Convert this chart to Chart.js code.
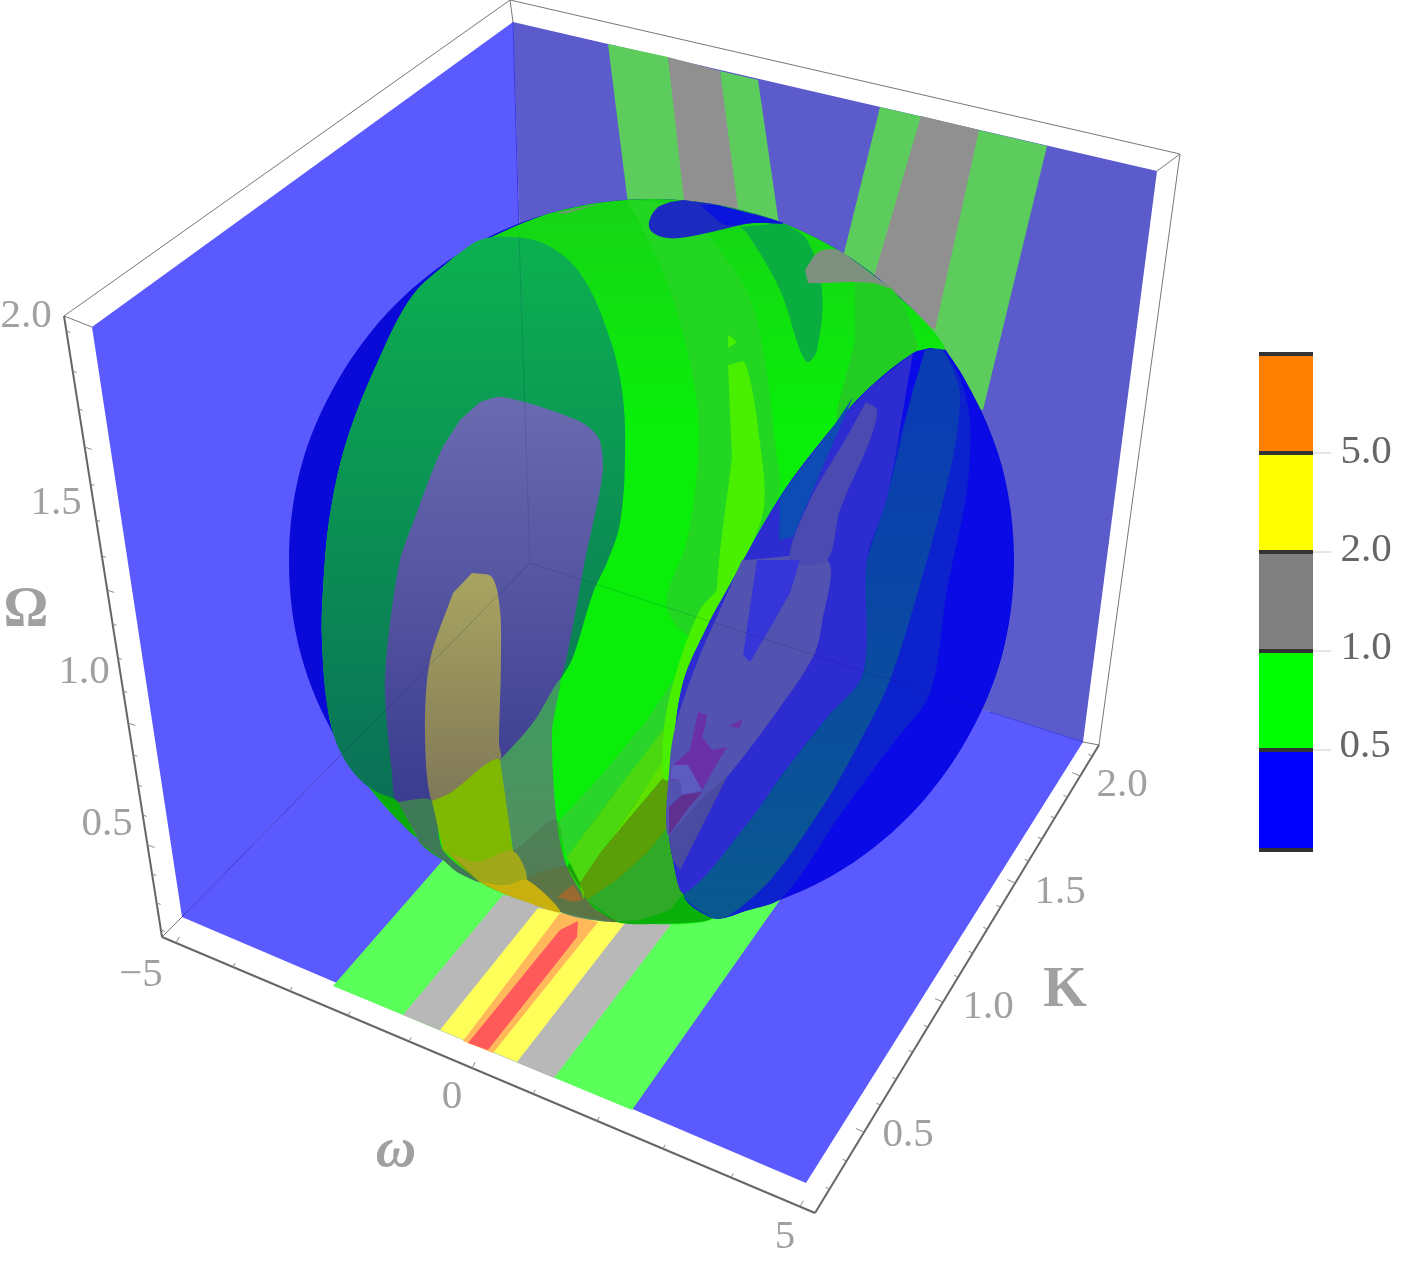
<!DOCTYPE html>
<html>
<head>
<meta charset="utf-8">
<title>Contour sphere</title>
<script src="https://cdn.jsdelivr.net/npm/chart.js@4/dist/chart.umd.js"></script>
<style>
  html, body { margin: 0; padding: 0; background: #fff; }
  canvas { display: block; }
</style>
</head>
<body>
<canvas id="plot" width="1416" height="1264"></canvas>
<script>

// box walls
const leftWall = [[92,327],[513,22],[530,563],[182,917]];
const backWall = [[513,22],[1157,171],[1083,742],[530,563]];
const floorWall = [[182,917],[530,563],[1083,742],[806,1183]];

// contour bands on the back wall
const backGreenA = [[608,44],[668,57],[700,300],[640,300]];
const backGreyA = [[668,57],[720,71],[755,300],[695,300]];
const backGreenB = [[720,71],[758,80],[790,300],[750,300]];
const backGreenC = [[880,107],[1047,146],[983,410],[820,350]];
const backGreyC = [[921,116],[979,130],[935,330],[870,290]];

// contour bands on the floor
const floorGreen = [[333,986],[443,860],[560,760],[830,830],[780,900],[632,1110]];
const floorGrey = [[403,1015],[503,895],[672,923],[554,1078]];
const floorYellow = [[440,1030],[538,908],[625,923],[517,1062]];
const floorOrange = [[463,1041],[560,913],[598,922],[493,1053]];
const floorRed = [[468,1043],[560,930],[578,921],[577,937],[488,1050]];

// sphere
const sphereRim = [[1014,561],[1002,467],[965,380],[908,305],[833,247],[745,211],[652,199],[558,211],[470,247],[395,305],[338,380],[301,467],[289,561],[301,655],[338,742],[395,817],[470,875],[558,911],[652,924],[745,911],[833,875],[908,817],[965,742],[1002,655],[1014,561]];
const greenBody = [[453,258],[470,247],[558,211],[652,199],[745,211],[833,247],[908,305],[945,350],[913,353],[870,387],[833,427],[780,497],[727,590],[707,627],[683,683],[672,760],[668,820],[673,860],[683,893],[713,918],[652,924],[558,911],[470,875],[395,817],[338,742],[328,710],[322,640],[323,590],[330,515],[347,440],[380,357],[413,295],[453,258]];
const tealDome = [[453,258],[480,240],[513,237],[547,245],[580,273],[607,330],[622,390],[625,457],[620,523],[608,560],[593,593],[573,657],[560,680],[533,723],[500,760],[450,793],[413,802],[373,790],[343,757],[328,710],[322,640],[323,590],[330,515],[347,440],[380,357],[413,295],[453,258]];
const purpleCap = [[480,402],[503,397],[577,420],[598,437],[603,463],[600,490],[585,560],[573,625],[560,680],[533,723],[500,760],[450,793],[398,802],[392,773],[385,693],[388,640],[400,560],[413,523],[440,453],[460,420]];
const oliveFinger = [[472,573],[492,577],[500,610],[501,660],[499,743],[500,760],[450,793],[432,801],[425,733],[430,660],[453,593]];

// strips under the dark arc
const lowSliver = [[343,757],[373,790],[398,802],[420,843],[443,860],[413,835],[395,817]];
const lowGreyGreen = [[398,802],[432,801],[443,850],[480,882],[457,872],[443,860],[420,843]];
const lowLime = [[432,801],[450,793],[500,760],[513,850],[527,880],[560,912],[547,908],[507,895],[480,882],[443,850]];
const lowMustard = [[450,853],[477,862],[513,851],[527,880],[507,885],[480,882]];
const lowYellow = [[480,882],[507,885],[527,880],[560,912],[507,895]];
const midStrip = [[500,760],[533,723],[560,680],[552,733],[557,823],[567,867],[593,907],[617,922],[560,912],[527,880],[513,850]];
const lowGreenBase = [[567,867],[617,790],[668,827],[673,860],[683,893],[713,918],[652,924],[617,922],[593,907]];
const diagA = [[557,823],[600,777],[647,720],[700,640],[700,673],[673,717],[617,790],[567,857]];
const diagB = [[567,857],[617,790],[673,717],[700,673],[677,720],[672,747],[633,807],[580,883]];
const diagC = [[580,883],[633,807],[672,747],[669,780],[663,778],[600,853],[583,900]];
const diagOlive = [[663,778],[669,780],[668,827],[647,853],[617,880],[587,900],[580,883],[600,853]];
const diagLow = [[587,900],[617,880],[647,853],[668,827],[673,860],[683,893],[670,910],[640,920],[617,922]];
const brownPatch = [[557,897],[573,885],[583,900],[573,902]];
const limeRim = [[727,590],[707,627],[683,683],[672,747],[669,780],[663,778],[665,720],[680,660],[700,610],[717,590]];

// second and third arcs of the shell, they darken what lies under them
const arcTwo = [[450,853],[477,862],[513,851],[556,820],[567,867],[593,907],[617,922],[558,911],[470,875]];
const arcThree = [[487,883],[507,885],[567,867],[593,907],[617,922],[558,911]];

// strips on the upper green
const upperStrip = [[627,200],[640,223],[670,290],[695,390],[698,457],[687,540],[667,607],[700,640],[727,590],[778,497],[777,457],[753,307],[710,237],[680,203]];
const rightStrip = [[855,270],[893,290],[913,330],[915,355],[870,387],[837,423],[855,340]];
const limeSpike = [[728,365],[745,363],[760,443],[763,513],[727,590],[717,590],[732,457]];
const limeTip = [[728,335],[735,340],[736,343],[728,348]];
const tealTongue = [[783,223],[807,240],[822,290],[817,350],[808,362],[800,350],[780,290],[747,233],[740,227]];
const topBlob = [[683,200],[717,205],[783,223],[753,223],[720,230],[687,237],[667,238],[652,232],[649,222],[657,208],[670,202]];
const topBlobBright = [[717,205],[783,223],[753,223],[725,225],[700,205]];
const greyBlob = [[805,270],[817,253],[830,249],[840,251],[870,273],[890,288],[873,283],[847,282],[823,283],[808,283]];
const greySliver = [[555,213],[603,203],[565,214]];

// blue side
const blueBody = [[945,350],[965,380],[1002,467],[1014,561],[1002,655],[965,742],[908,817],[833,875],[745,911],[713,918],[683,893],[673,860],[668,820],[672,760],[683,683],[707,627],[727,590],[780,497],[833,427],[870,387],[913,353],[930,348]];
const blueStripOuter = [[945,352],[960,378],[970,420],[967,490],[947,590],[930,693],[890,747],[840,815],[783,897],[745,911],[713,918],[685,893],[863,673],[867,560],[913,390]];
const blueStripInner = [[925,350],[942,350],[953,370],[960,395],[953,457],[927,560],[890,680],[857,747],[827,800],[773,877],[730,915],[713,918],[685,893],[750,820],[783,773],[827,717],[863,673],[862,593],[867,560],[887,497],[913,390]];
const blueBase = [[913,353],[887,497],[867,560],[863,673],[827,717],[783,773],[750,820],[685,893],[673,860],[668,820],[672,760],[683,683],[707,627],[727,590],[780,497],[833,427],[870,387]];
const lavenderLow = [[742,560],[827,560],[822,623],[813,657],[773,717],[727,777],[670,837],[670,760],[677,720],[698,660],[723,603]];
const lavenderHigh = [[866,402],[877,410],[870,440],[840,510],[827,560],[790,560],[810,500],[845,440]];
const blueSpike = [[757,560],[800,560],[790,593],[773,623],[750,662],[743,655]];
const tealSpike = [[779,540],[793,537],[827,457],[853,397],[833,427],[780,497]];
const purpleMain = [[698,712],[707,715],[705,727],[702,737],[712,750],[727,747],[715,767],[702,790],[682,795],[680,780],[670,780],[673,765],[690,750]];
const lavenderNotch = [[673,765],[688,765],[702,790],[682,795],[680,780],[670,779]];
const purpleSmall = [[729,726],[743,719],[739,728]];
const purpleLow = [[669,807],[682,795],[702,792],[687,810],[669,835]];
const greyLow = [[669,837],[700,800],[727,777],[680,870],[673,860]];

// colour key
const keyOrange = [[1259,354],[1313,354],[1313,453],[1259,453]];
const keyYellow = [[1259,453],[1313,453],[1313,552],[1259,552]];
const keyGrey = [[1259,552],[1313,552],[1313,651],[1259,651]];
const keyGreen = [[1259,651],[1313,651],[1313,750],[1259,750]];
const keyBlue = [[1259,750],[1313,750],[1313,850],[1259,850]];
const keyStops = [354, 453, 552, 651, 750, 850];
const keyLabels = ['5.0', '2.0', '1.0', '0.5'];
const keyLabelY = [452, 550, 648, 746];
const keyLabelX = [1366, 1366, 1366, 1365];

// axes
const frameLines = [
  [[64,316],[510,0],[1180,154],[1099,745]],
  [[510,0],[513,22]], [[1180,154],[1157,171]], [[64,316],[92,327]],
  [[162,937],[182,917]], [[1099,745],[1083,742]]
];
const omegaAxis = [[64,316],[162,937]];
const freqAxis = [[162,937],[815,1213]];
const kAxis = [[815,1213],[1099,745]];
const omegaTickY = [331,371,409,447,484,520,556,590,624,658,691,723,755,785,815,845,874,903,930];
const omegaMajorY = [447, 590, 723, 845];
const freqTickX = [176,233,290,348,409,472,533,597,663,731,800];
const freqMajorX = [176, 472, 800];
const kTickY = [1189,1161,1132,1105,1079,1052,1027,1002,977,953,929,907,883,861,839,818,797,776,756];
const kMajorY = [1132, 1002, 883, 776];

const axisText = ['2.0','1.5','1.0','0.5','\u22125','0','5','2.0','1.5','1.0','0.5'];
const axisTextX = [26,56,84,107,141,452,785,1122,1060,988,908];
const axisTextY = [316,503,672,824,975,1097,1237,785,892,1007,1135];
const titleText = ['\u03a9', 'K', '\u03c9'];
const titleX = [26, 1065, 396];
const titleY = [612, 992, 1152];

const W = 1416, H = 1264;

function toPts(list) { return list.map(p => ({ x: p[0], y: p[1] })); }

// fill colour, or vertical gradient when given [top, bottom, yTop, yBottom]
function paint(col) {
  if (typeof col === 'string') return col;
  return (ctx) => {
    const k = ctx.chart.height / H;
    const g = ctx.chart.ctx.createLinearGradient(0, col[2] * k, 0, col[3] * k);
    g.addColorStop(0, col[0]);
    g.addColorStop(1, col[1]);
    return g;
  };
}

const datasets = [];
function area(list, col, tension) {
  datasets.push({
    data: toPts(list), showLine: true, fill: 'shape', borderWidth: 0,
    borderColor: 'rgba(0,0,0,0)', backgroundColor: paint(col),
    tension: tension || 0, pointRadius: 0
  });
}
function outline(list, col, width, tension) {
  datasets.push({
    data: toPts(list), showLine: true, fill: false, borderWidth: width,
    borderColor: col, tension: tension || 0, pointRadius: 0
  });
}
function onLine(seg, y) {
  const t = (y - seg[0][1]) / (seg[1][1] - seg[0][1]);
  return seg[0][0] + t * (seg[1][0] - seg[0][0]);
}
function onLineX(seg, x) {
  const t = (x - seg[0][0]) / (seg[1][0] - seg[0][0]);
  return seg[0][1] + t * (seg[1][1] - seg[0][1]);
}

const ROUND = 0.36;

// walls
area(leftWall, '#5a5aff');
area(backWall, '#5b5bcc');
area(backGreenA, '#5ccc5c');
area(backGreyA, '#909090');
area(backGreenB, '#5ccc5c');
area(backGreenC, '#5ccc5c');
area(backGreyC, '#909090');
area(floorWall, '#5a5aff');
area(floorGreen, '#5aff5a');
area(floorGrey, '#b8b8b8');
area(floorYellow, '#ffff5a');
area(floorOrange, '#ffb85a');
area(floorRed, '#ff5a5a');
outline([backWall[0], [519,235]], '#3a3ae0', 1);
outline([floorWall[0], [342,754]], '#3c3cc8', 1);
outline([[990,712], backWall[2]], '#3c3ce0', 1);

// sphere, back to front
area(sphereRim, '#0a0ad8', 0.34);
area(greenBody, ['#16d416', '#0aee0a', 200, 420], 0.34);
area(upperStrip, '#22d622', ROUND);
area(rightStrip, '#22cc22', ROUND);
area(limeSpike, '#48f000', 0.3);
area(limeTip, '#48f000');
area(tealTongue, '#0aae40', ROUND);
area(topBlob, '#1b2bc0', ROUND);
area(topBlobBright, '#0a14dc', 0.2);
area(greyBlob, '#7e9080', 0.3);
area(greySliver, '#6a9a6a');
area(tealDome, ['#0cb050', '#0a7058', 240, 800], ROUND);
area(purpleCap, ['#6a6ab0', '#3c3c90', 400, 800], 0.3);
area(oliveFinger, ['#a8a460', '#807858', 575, 800], 0.3);
area(lowSliver, '#0aab0a', 0.3);
area(lowGreyGreen, '#3f7a58', 0.3);
area(lowLime, '#7fb800', 0.3);
area(midStrip, ['#3f9a60', '#5a8a60', 700, 910], 0.3);
area(lowGreenBase, '#0ab00a', 0.3);
area(diagA, '#2bd42b');
area(diagB, '#4bd810');
area(diagC, '#5fe000');
area(diagOlive, '#5a9e08');
area(diagLow, '#30a828');
area(limeRim, '#48f000', 0.3);
area(arcTwo, 'rgba(70,50,40,0.16)', 0.3);
area(arcThree, 'rgba(120,90,0,0.2)', 0.3);
area(lowMustard, '#a0a81a', 0.3);
area(lowYellow, '#c8b00e', 0.3);
area(brownPatch, '#9a6a30');
area(blueBody, '#0a0ae6', 0.34);
area(blueStripOuter, '#0c22cc', 0.3);
area(blueStripInner, ['#0a3cb4', '#0a5890', 400, 900], 0.3);
area(blueBase, '#2c2cd0', 0.34);
area(lavenderLow, '#5252b0', 0.3);
area(lavenderHigh, '#4a4ab0', 0.3);
area(blueSpike, '#3636d8');
area(tealSpike, '#0d4cb4');
area(purpleMain, '#6a30a8');
area(lavenderNotch, '#5c5cc0');
area(purpleSmall, '#6a30a8');
area(purpleLow, '#603090');
area(greyLow, '#4a4aa0');

// box edges showing through the sphere
outline([[519,235],backWall[3]], 'rgba(0,0,80,0.12)', 1);
outline([backWall[3],[342,754]], 'rgba(0,0,80,0.16)', 1);
outline([backWall[3],[990,712]], 'rgba(0,0,80,0.14)', 1);

// frame and axes
frameLines.forEach(l => outline(l, '#777', 1));
outline(omegaAxis, '#666', 2);
outline(freqAxis, '#666', 2);
outline(kAxis, '#666', 2);
omegaTickY.forEach(y => {
  const x = onLine(omegaAxis, y), n = omegaMajorY.includes(y) ? 7 : 4;
  outline([[x, y], [x + n, y + n * 0.35]], '#888', 1);
});
freqTickX.forEach(x => {
  const y = onLineX(freqAxis, x), n = freqMajorX.includes(x) ? 6 : 4;
  outline([[x, y], [x + n * 0.55, y - n]], '#888', 1);
});
kTickY.forEach(y => {
  const x = onLine(kAxis, y), n = kMajorY.includes(y) ? 8 : 4;
  outline([[x, y], [x - n, y - n * 0.42]], '#888', 1);
});

// colour key
area(keyOrange, '#ff8000');
area(keyYellow, '#ffff00');
area(keyGrey, '#808080');
area(keyGreen, '#00ff00');
area(keyBlue, '#0000ff');
keyStops.forEach(y => outline([[1259, y], [1313, y]], '#333', 4));
keyStops.slice(1, 5).forEach(y => outline([[1313, y], [1331, y]], '#ccc', 1));

const n = datasets.length;
datasets.forEach((d, i) => { d.order = n - i; d.clip = false; });

const textPlugin = {
  id: 'plotText',
  afterDatasetsDraw(chart) {
    const { ctx, scales } = chart;
    ctx.save();
    ctx.textAlign = 'center';
    ctx.textBaseline = 'middle';
    ctx.fillStyle = '#a0a0a0';
    ctx.font = '41px "Liberation Serif"';
    axisText.forEach((t, i) => {
      ctx.fillText(t, scales.x.getPixelForValue(axisTextX[i]), scales.y.getPixelForValue(axisTextY[i]));
    });
    titleText.forEach((t, i) => {
      ctx.font = (i === 2 ? 'italic bold ' : 'bold ') + '56px "Liberation Serif"';
      ctx.fillText(t, scales.x.getPixelForValue(titleX[i]), scales.y.getPixelForValue(titleY[i]));
    });
    ctx.fillStyle = '#666';
    ctx.font = '41px "Liberation Serif"';
    keyLabels.forEach((t, i) => {
      ctx.fillText(t, scales.x.getPixelForValue(keyLabelX[i]), scales.y.getPixelForValue(keyLabelY[i]));
    });
    ctx.restore();
  }
};

new Chart(document.getElementById('plot'), {
  type: 'scatter',
  data: { datasets },
  plugins: [textPlugin],
  options: {
    responsive: false,
    animation: false,
    layout: { padding: 0 },
    plugins: { legend: { display: false }, tooltip: { enabled: false }, title: { display: false } },
    scales: {
      x: { type: 'linear', min: 0, max: W, display: false },
      y: { type: 'linear', min: 0, max: H, reverse: true, display: false }
    }
  }
});
</script>
</body>
</html>
